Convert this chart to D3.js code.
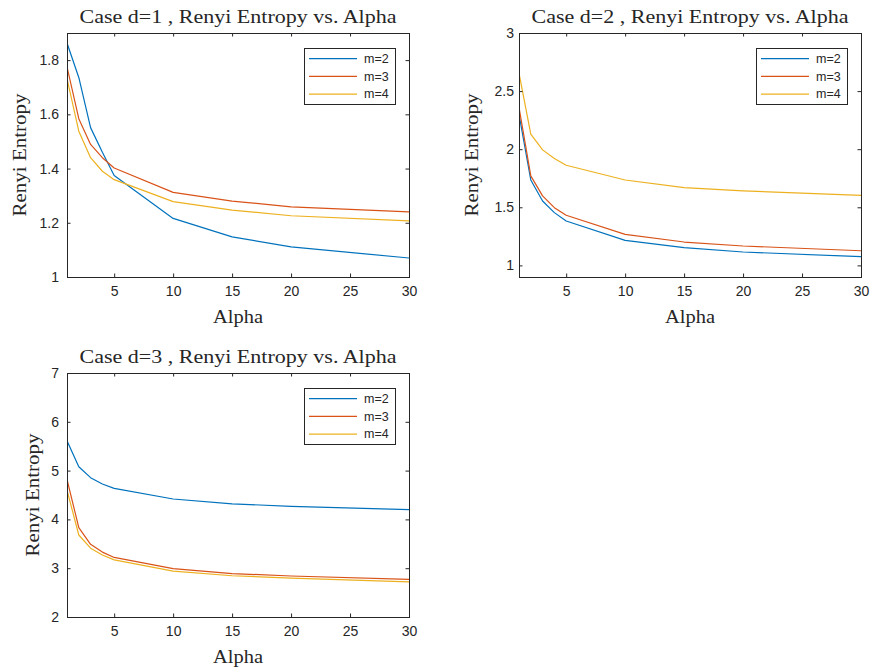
<!DOCTYPE html>
<html>
<head>
<meta charset="utf-8">
<script src="https://cdn.jsdelivr.net/npm/d3@7"></script>
<style>
  html, body { margin: 0; padding: 0; background: #fff; }
  svg { display: block; }
</style>
</head>
<body>
<svg id="fig" width="871" height="670"></svg>
<script>
// Renyi entropy estimates against the order alpha, for embedding dims m = 2, 3, 4
const alpha = [1, 2, 3, 4, 5, 10, 15, 20, 30];
const seriesNames = ["m=2", "m=3", "m=4"];

// case d = 1
const d1_m2 = [1.863, 1.736, 1.551, 1.46, 1.374, 1.216, 1.148, 1.111, 1.070];
const d1_m3 = [1.775, 1.584, 1.489, 1.44, 1.402, 1.312, 1.280, 1.259, 1.240];
const d1_m4 = [1.732, 1.538, 1.44, 1.39, 1.359, 1.278, 1.247, 1.226, 1.207];

// case d = 2
const d2_m2 = [2.30, 1.735, 1.554, 1.454, 1.382, 1.215, 1.152, 1.115, 1.075];
const d2_m3 = [2.36, 1.77, 1.598, 1.497, 1.431, 1.267, 1.201, 1.167, 1.126];
const d2_m4 = [2.655, 2.129, 1.994, 1.92, 1.862, 1.735, 1.670, 1.641, 1.603];

// case d = 3
const d3_m2 = [5.613, 5.08, 4.855, 4.725, 4.637, 4.418, 4.32, 4.266, 4.20];
const d3_m3 = [4.82, 3.83, 3.49, 3.33, 3.22, 2.99, 2.89, 2.84, 2.77];
const d3_m4 = [4.60, 3.68, 3.41, 3.27, 3.17, 2.94, 2.845, 2.797, 2.72];

// axis ticks
const xTicks = [5, 10, 15, 20, 25, 30];
const yTicks1 = [1, 1.2, 1.4, 1.6, 1.8];
const yTicks2 = [1, 1.5, 2, 2.5, 3];
const yTicks3 = [2, 3, 4, 5, 6, 7];
const yDomain1 = [1, 1.9];
const yDomain2 = [0.9, 3];
const yDomain3 = [2, 7];

const titles = [
  "Case d=1 , Renyi Entropy vs. Alpha",
  "Case d=2 , Renyi Entropy vs. Alpha",
  "Case d=3 , Renyi Entropy vs. Alpha"
];
const xLabel = "Alpha";
const yLabel = "Renyi Entropy";

const colors = ["#0072BD", "#D95319", "#EDB120"];
const axisColor = "#262626";
const serif = "'Liberation Serif', 'DejaVu Serif', serif";
const sans = "'Liberation Sans', Arial, sans-serif";

// panel placement
const panels = [
  { box: { x: 67, y: 33, w: 342, h: 244 }, series: [d1_m2, d1_m3, d1_m4], yDomain: yDomain1, yTicks: yTicks1, tickPad: 8, yLabOff: 48, title: titles[0] },
  { box: { x: 519, y: 33, w: 342, h: 244 }, series: [d2_m2, d2_m3, d2_m4], yDomain: yDomain2, yTicks: yTicks2, tickPad: 5, yLabOff: 48, title: titles[1] },
  { box: { x: 67, y: 373, w: 342, h: 244 }, series: [d3_m2, d3_m3, d3_m4], yDomain: yDomain3, yTicks: yTicks3, tickPad: 8, yLabOff: 35, title: titles[2] }
];

const svg = d3.select("#fig");
const fmt = d => String(+d.toFixed(2));
const tickLen = 3.5;

panels.forEach(p => {
  const b = p.box;
  const g = svg.append("g").attr("transform", `translate(${b.x},${b.y})`);
  const x = d3.scaleLinear().domain([1, 30]).range([0, b.w]);
  const y = d3.scaleLinear().domain(p.yDomain).range([b.h, 0]);

  // data lines (clipped to the axes box)
  const clipId = "clip" + b.x + "_" + b.y;
  g.append("clipPath").attr("id", clipId)
    .append("rect").attr("width", b.w).attr("height", b.h);
  const line = d3.line().x((d, i) => x(alpha[i])).y(d => y(d));
  g.append("g").attr("clip-path", `url(#${clipId})`)
    .selectAll("path").data(p.series).join("path")
    .attr("d", line)
    .attr("fill", "none")
    .attr("stroke", (d, i) => colors[i])
    .attr("stroke-width", 1.2)
    .attr("stroke-linejoin", "round");

  // axes with inward ticks on all four sides
  const styleAxis = sel => {
    sel.select(".domain").remove();
    sel.selectAll(".tick line").attr("stroke", axisColor).attr("stroke-width", 1);
    sel.selectAll(".tick text").attr("fill", axisColor)
      .style("font-family", sans).style("font-size", "14px");
  };
  g.append("g").attr("transform", `translate(0,${b.h})`)
    .call(d3.axisBottom(x).tickValues(xTicks).tickSize(-tickLen).tickPadding(9).tickFormat(fmt))
    .call(styleAxis);
  g.append("g")
    .call(d3.axisTop(x).tickValues(xTicks).tickSize(-tickLen).tickFormat(""))
    .call(styleAxis);
  g.append("g")
    .call(d3.axisLeft(y).tickValues(p.yTicks).tickSize(-tickLen).tickPadding(p.tickPad).tickFormat(fmt))
    .call(styleAxis);
  g.append("g").attr("transform", `translate(${b.w},0)`)
    .call(d3.axisRight(y).tickValues(p.yTicks).tickSize(-tickLen).tickFormat(""))
    .call(styleAxis);

  g.append("rect")
    .attr("x", 0).attr("y", 0).attr("width", b.w).attr("height", b.h)
    .attr("fill", "none").attr("stroke", axisColor).attr("stroke-width", 1)
    .attr("shape-rendering", "crispEdges");

  // title and axis labels (serif, widened to a Computer Modern-like set width)
  g.append("text").attr("x", b.w / 2).attr("y", -10)
    .attr("text-anchor", "middle").attr("fill", axisColor)
    .attr("textLength", 317).attr("lengthAdjust", "spacingAndGlyphs")
    .style("font-family", serif).style("font-size", "19.5px")
    .text(p.title);
  g.append("text").attr("x", b.w / 2).attr("y", b.h + 46)
    .attr("text-anchor", "middle").attr("fill", axisColor)
    .attr("textLength", 50).attr("lengthAdjust", "spacingAndGlyphs")
    .style("font-family", serif).style("font-size", "19.5px")
    .text(xLabel);
  g.append("text")
    .attr("transform", `translate(${-p.yLabOff},${b.h / 2}) rotate(-90)`)
    .attr("text-anchor", "middle").attr("dy", "0.35em").attr("fill", axisColor)
    .attr("textLength", 123).attr("lengthAdjust", "spacingAndGlyphs")
    .style("font-family", serif).style("font-size", "19.5px")
    .text(yLabel);

  // legend in the upper right corner
  const lg = g.append("g").attr("transform", `translate(${b.w - 105},15)`);
  lg.append("rect").attr("width", 91).attr("height", 56)
    .attr("fill", "#fff").attr("stroke", axisColor).attr("stroke-width", 1)
    .attr("shape-rendering", "crispEdges");
  const rows = lg.selectAll("g.row").data(seriesNames).join("g")
    .attr("class", "row")
    .attr("transform", (d, i) => `translate(0,${10.7 + i * 17.7})`);
  rows.append("line").attr("x1", 5).attr("x2", 53)
    .attr("stroke", (d, i) => colors[i]).attr("stroke-width", 1.2);
  rows.append("text").attr("x", 60).attr("dy", "0.35em")
    .attr("fill", axisColor)
    .style("font-family", sans).style("font-size", "12.5px")
    .text(d => d);
});
</script>
</body>
</html>
